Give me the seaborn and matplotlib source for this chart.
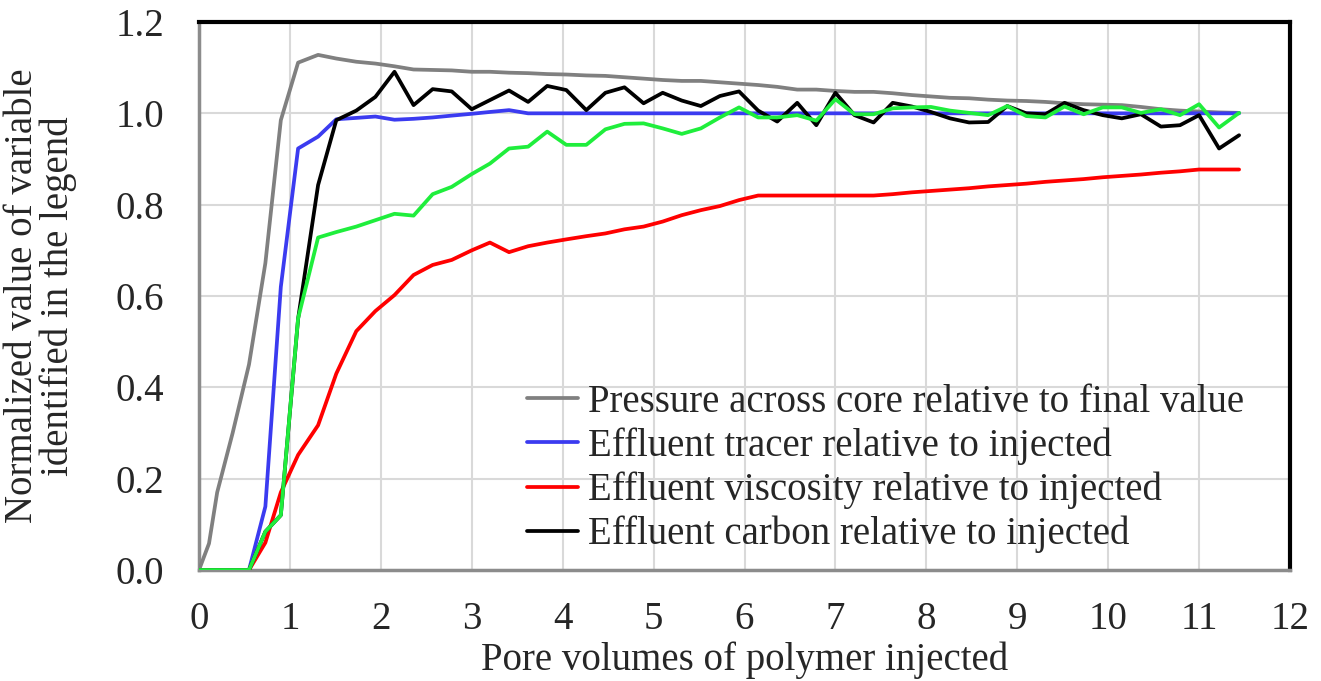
import matplotlib
matplotlib.use("Agg")
import matplotlib.pyplot as plt
import seaborn as sns
import pandas as pd

pore_volumes = [0, 0.11, 0.2, 0.37, 0.55, 0.73, 0.9,
                1.09, 1.31, 1.51, 1.73, 1.94, 2.15, 2.36, 2.57, 2.78,
                3.0, 3.2, 3.41, 3.62, 3.83, 4.04, 4.26, 4.47, 4.68, 4.89,
                5.1, 5.31, 5.52, 5.73, 5.94, 6.15, 6.36, 6.58, 6.79,
                7.0, 7.21, 7.42, 7.63, 7.84, 8.05, 8.26, 8.47, 8.68, 8.89,
                9.1, 9.31, 9.52, 9.73, 9.94, 10.15, 10.36, 10.58, 10.79,
                11.0, 11.22, 11.44]

pressure = [0, 0.058, 0.17, 0.30, 0.45, 0.672, 0.985,
            1.111, 1.128, 1.12, 1.113, 1.109, 1.103, 1.096, 1.095, 1.094,
            1.091, 1.091, 1.089, 1.088, 1.086, 1.085, 1.083, 1.082, 1.079, 1.076,
            1.073, 1.071, 1.071, 1.068, 1.065, 1.062, 1.058, 1.052, 1.052,
            1.049, 1.047, 1.047, 1.044, 1.040, 1.037, 1.034, 1.033, 1.030, 1.028,
            1.027, 1.025, 1.022, 1.020, 1.019, 1.018, 1.014, 1.009, 1.006,
            1.004, 1.002, 1.001]

tracer = [0, 0, 0, 0, 0, 0.139, 0.62,
          0.923, 0.949, 0.987, 0.99, 0.993, 0.986, 0.988, 0.991, 0.995,
          0.999, 1.003, 1.007, 1.0, 1.0, 1.0, 1.0, 1.0, 1.0, 1.0,
          1.0, 1.0, 1.0, 1.0, 1.0, 1.0, 1.0, 1.0, 1.0,
          1.0, 1.0, 1.0, 1.0, 1.0, 1.0, 1.0, 1.0, 1.0, 1.0,
          1.0, 1.0, 1.0, 1.0, 1.0, 1.0, 1.0, 1.0, 1.0,
          1.0, 1.0, 1.0]

viscosity = [0, 0, 0, 0, 0, 0.06, 0.17,
             0.252, 0.317, 0.43, 0.523, 0.567, 0.602, 0.646, 0.668, 0.679,
             0.70, 0.717, 0.696, 0.709, 0.717, 0.724, 0.731, 0.737, 0.746, 0.752,
             0.763, 0.777, 0.788, 0.797, 0.81, 0.82, 0.82, 0.82, 0.82,
             0.82, 0.82, 0.82, 0.823, 0.827, 0.830, 0.833, 0.836, 0.840, 0.843,
             0.846, 0.850, 0.853, 0.856, 0.860, 0.863, 0.866, 0.870, 0.873,
             0.877, 0.877, 0.877]

carbon = [0, 0, 0, 0, 0, 0.084, 0.12,
          0.55, 0.843, 0.985, 1.006, 1.036, 1.091, 1.018, 1.053, 1.048,
          1.009, 1.029, 1.05, 1.025, 1.06, 1.051, 1.007, 1.045, 1.057, 1.022,
          1.045, 1.028, 1.016, 1.038, 1.048, 1.006, 0.982, 1.023, 0.974,
          1.045, 0.996, 0.98, 1.023, 1.015, 1.003, 0.989, 0.98, 0.981, 1.016,
          1.0, 0.998, 1.023, 1.007, 0.996, 0.989, 0.998, 0.971, 0.974,
          0.996, 0.923, 0.952]

unlabeled_green = [0, 0, 0, 0, 0, 0.084, 0.12,
                   0.551, 0.728, 0.74, 0.752, 0.766, 0.78, 0.776, 0.823, 0.839,
                   0.867, 0.89, 0.923, 0.927, 0.96, 0.931, 0.931, 0.965, 0.977, 0.978,
                   0.967, 0.955, 0.967, 0.991, 1.013, 0.991, 0.991, 0.996, 0.984,
                   1.031, 0.998, 0.998, 1.011, 1.013, 1.014, 1.006, 1.001, 0.996, 1.016,
                   0.994, 0.991, 1.015, 0.998, 1.013, 1.013, 1.001, 1.009, 0.996,
                   1.02, 0.969, 1.001]

labels = ["Pressure across core relative to final value",
          "Effluent tracer relative to injected",
          "Effluent viscosity relative to injected",
          "Effluent carbon relative to injected"]

x_ticks = list(range(0, 13))
y_ticks = [0.0, 0.2, 0.4, 0.6, 0.8, 1.0, 1.2]
x_label = "Pore volumes of polymer injected"
y_label = "Normalized value of variable\nidentified in the legend"

sns.set_style("white")
plt.rcParams['font.family'] = ['Liberation Serif', 'DejaVu Serif']

FS = 28

fig = plt.figure(figsize=(13.21, 6.81), dpi=100)
ax = fig.add_axes([199/1321, 1 - 570/681, (1290-199)/1321, (570-22)/681])

series = [(pressure, "#808080", labels[0]),
          (tracer, "#3B3BF0", labels[1]),
          (viscosity, "#FF0000", labels[2]),
          (carbon, "#000000", labels[3]),
          (unlabeled_green, "#1FEE3C", None)]

handles = []
for vals, col, lab in series:
    df = pd.DataFrame({"pv": pore_volumes, "val": vals})
    sns.lineplot(data=df, x="pv", y="val", color=col, linewidth=2.7, ax=ax,
                 legend=False, zorder=3)
    if lab is not None:
        handles.append((ax.lines[-1], lab))

ax.set_xlim(0, 12)
ax.set_ylim(0, 1.2)
ax.set_xticks(x_ticks)
ax.set_yticks(y_ticks)
ax.set_yticklabels([f"{v:.1f}" for v in y_ticks])
ax.grid(True, color="#D9D9D9", linewidth=1.5, zorder=0)
ax.set_axisbelow(True)
ax.tick_params(axis="both", length=0, labelsize=FS)
ax.tick_params(axis="x", pad=22)
ax.tick_params(axis="y", pad=25)
ax.set_xlabel(x_label, fontsize=FS, labelpad=3)
ax.set_ylabel(y_label, fontsize=FS, labelpad=28, linespacing=0.95)

for side in ["top", "right"]:
    ax.spines[side].set_color("black")
    ax.spines[side].set_linewidth(3)
for side in ["left", "bottom"]:
    ax.spines[side].set_color("#8C8C8C")
    ax.spines[side].set_linewidth(2.5)

leg = ax.legend([h for h, _ in handles], [l for _, l in handles],
                loc="lower left", bbox_to_anchor=(0.286, 0.002),
                frameon=False, fontsize=FS, handlelength=1.33,
                handletextpad=0.25, labelspacing=0.17, borderaxespad=0)

fig.savefig("out.png", dpi=100)
